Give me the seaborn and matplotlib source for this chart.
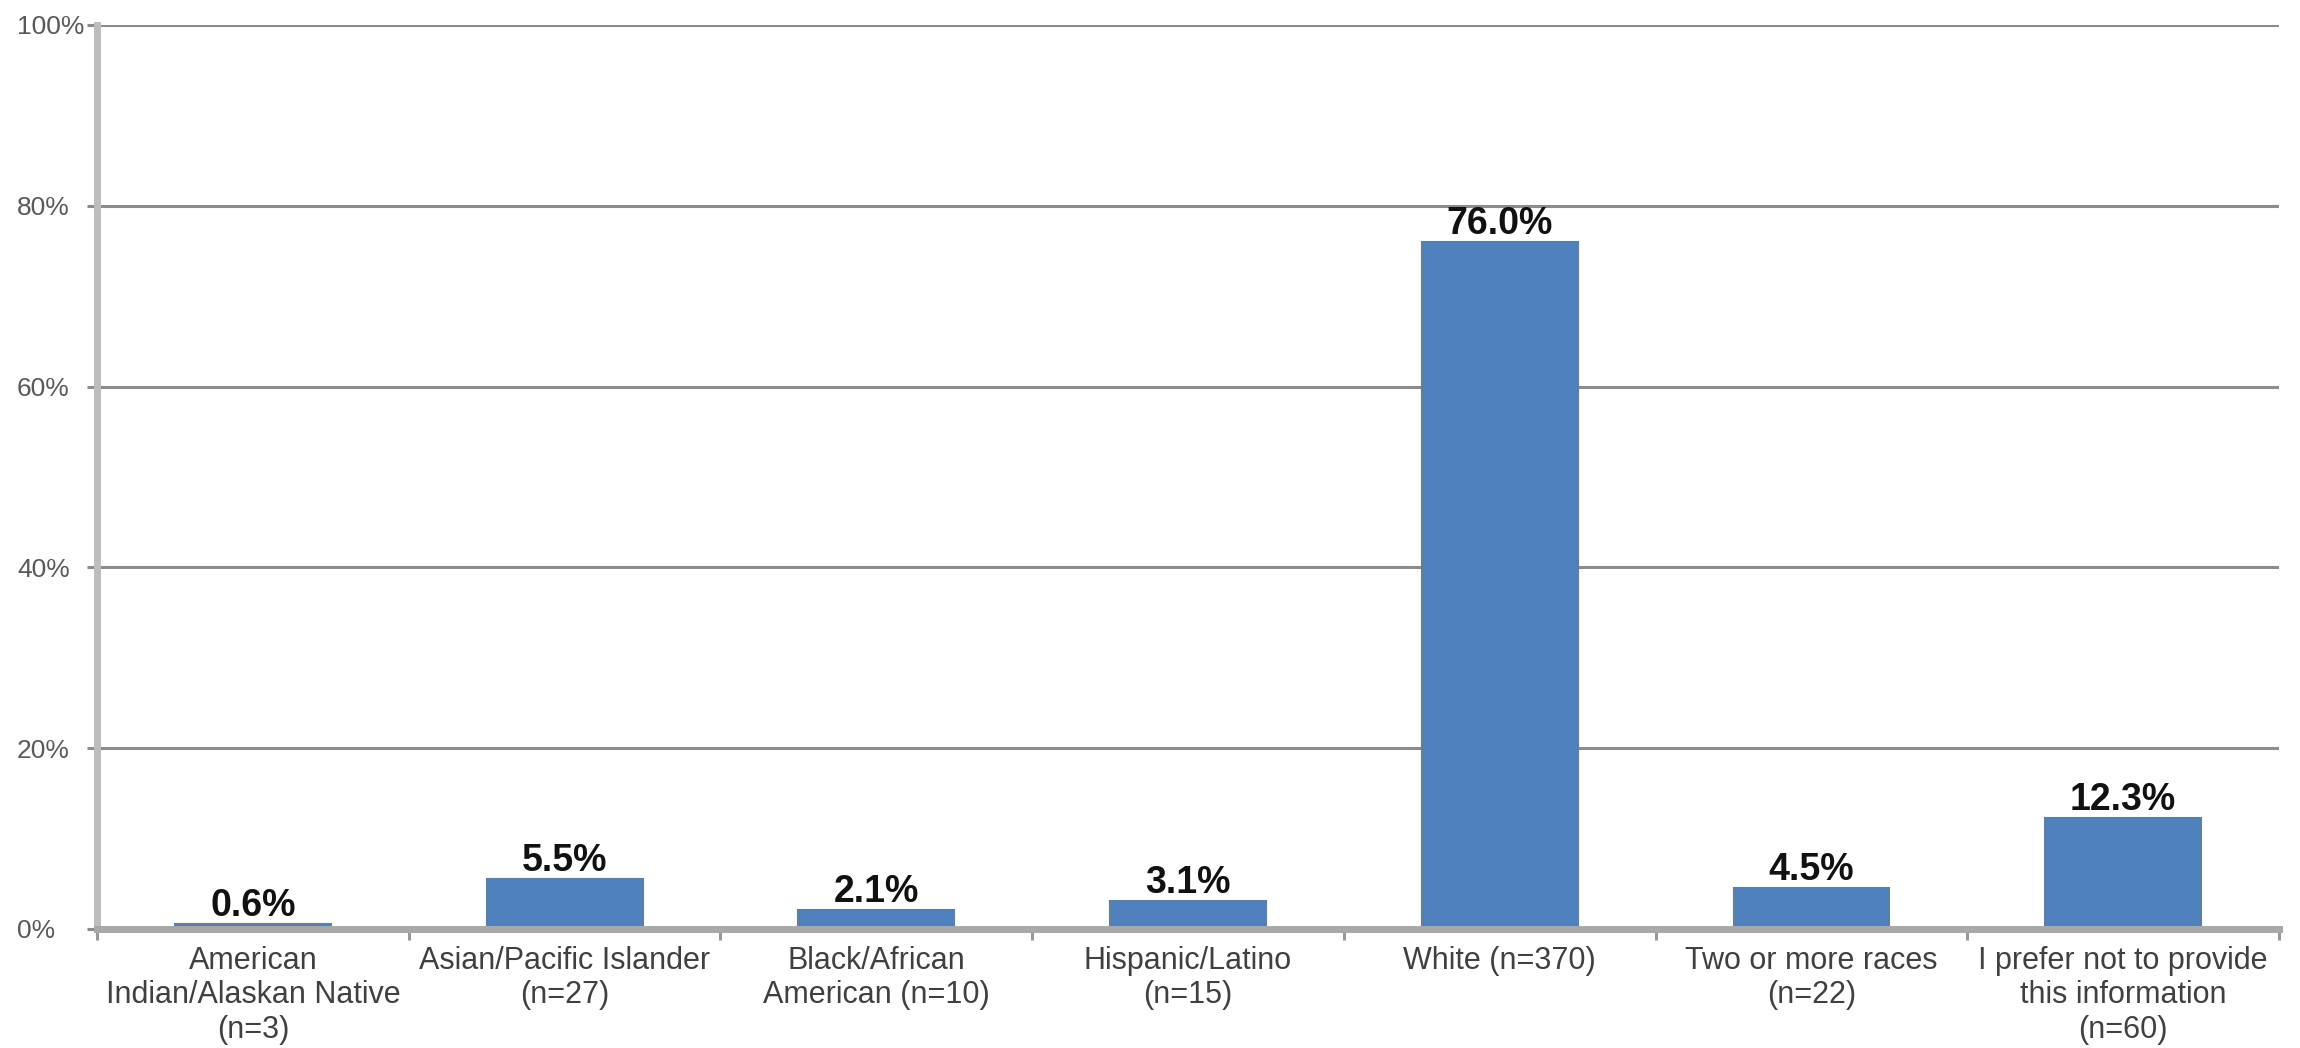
import matplotlib
matplotlib.use("Agg")
import matplotlib.pyplot as plt
from matplotlib.ticker import FixedLocator, FuncFormatter
import seaborn as sns
import pandas as pd

categories = [
    "American\nIndian/Alaskan Native\n(n=3)",
    "Asian/Pacific Islander\n(n=27)",
    "Black/African\nAmerican (n=10)",
    "Hispanic/Latino\n(n=15)",
    "White (n=370)",
    "Two or more races\n(n=22)",
    "I prefer not to provide\nthis information\n(n=60)",
]
values = [0.6, 5.5, 2.1, 3.1, 76.0, 4.5, 12.3]
y_ticks = [0, 20, 40, 60, 80, 100]

sns.set_theme(style="white")
plt.rcParams["font.family"] = ["Liberation Sans", "DejaVu Sans"]

df = pd.DataFrame({"category": categories, "value": values})

fig = plt.figure(figsize=(23, 10.48), dpi=100)
ax = fig.add_axes([97 / 2300, 1 - 929 / 1048, (2279 - 97) / 2300, (929 - 25) / 1048])

sns.barplot(data=df, x="category", y="value", color="#4F81BD", width=0.5,
            edgecolor="#5d7ea6", linewidth=1.5, saturation=1, ax=ax, zorder=3)

ax.set_ylim(0, 100)
ax.set_yticks(y_ticks)
ax.yaxis.set_major_formatter(FuncFormatter(lambda v, p: f"{v:.0f}%"))
ax.set_xlim(-0.5, len(categories) - 0.5)

ax.grid(axis="y", color="#8c8c8c", linewidth=2.2, zorder=0)
ax.grid(axis="x", visible=False)
ax.set_axisbelow(True)

for side in ["top", "right"]:
    ax.spines[side].set_visible(False)
ax.spines["left"].set_color("#bdbdbd")
ax.spines["left"].set_linewidth(5)
ax.spines["bottom"].set_color("#a8a8a8")
ax.spines["bottom"].set_linewidth(5)
ax.spines["bottom"].set_zorder(4)

ax.set_xlabel("")
ax.set_ylabel("")

ax.tick_params(axis="y", which="major", length=7, width=2.2, color="#8c8c8c",
               labelsize=19, labelcolor="#595959", pad=50.6, left=True)
for lbl in ax.get_yticklabels():
    lbl.set_ha("left")

ax.tick_params(axis="x", which="major", length=0, pad=12,
               labelsize=22, labelcolor="#404040")
ax.xaxis.set_minor_locator(FixedLocator([i - 0.5 for i in range(len(categories) + 1)]))
ax.tick_params(axis="x", which="minor", length=8, width=2.2, color="#9a9a9a", bottom=True)

for lbl in ax.get_xticklabels():
    lbl.set_linespacing(1.2)
    lbl.set_ha("center")

for cont in ax.containers:
    ax.bar_label(cont, labels=[f"{v:.1f}%" for v in values], padding=0,
                 fontsize=27, fontweight="bold", color="#111111")

fig.savefig("out.png", dpi=100, facecolor="white")
